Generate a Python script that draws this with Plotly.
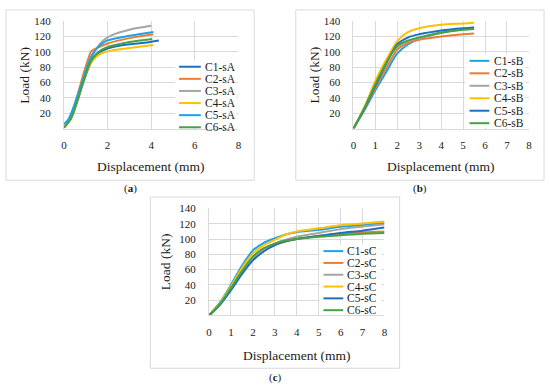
import plotly.graph_objects as go

W, H = 550, 385

# ---------------- data ----------------
names_a = ["C1-sA", "C2-sA", "C3-sA", "C4-sA", "C5-sA", "C6-sA"]
names_b = ["C1-sB", "C2-sB", "C3-sB", "C4-sB", "C5-sB", "C6-sB"]
names_c = ["C1-sC", "C2-sC", "C3-sC", "C4-sC", "C5-sC", "C6-sC"]

# panel (a)
a_c1_x = [0, 0.3, 0.6, 0.9, 1.2, 1.5, 1.8, 2.2, 3.0, 3.7, 4.35]
a_c1_y = [2, 12, 35, 62, 84, 97, 102, 106, 110, 112, 115]
a_c2_x = [0, 0.3, 0.6, 0.9, 1.1, 1.25, 1.5, 2.0, 3.0, 4.1]
a_c2_y = [2, 16, 42, 72, 90, 101, 105, 111, 118, 123]
a_c3_x = [0, 0.3, 0.6, 0.9, 1.2, 1.5, 1.8, 2.2, 3.0, 4.0]
a_c3_y = [2, 14, 38, 66, 88, 105, 115, 122, 129, 134]
a_c4_x = [0, 0.3, 0.6, 0.9, 1.2, 1.5, 1.8, 2.2, 3.0, 4.1]
a_c4_y = [2, 13, 36, 63, 84, 94, 99, 102, 105, 109]
a_c5_x = [0, 0.2, 0.5, 0.8, 1.1, 1.35, 1.7, 2.0, 3.0, 4.1]
a_c5_y = [6, 12, 33, 58, 84, 99, 110, 115, 121, 126]
a_c6_x = [0, 0.3, 0.6, 0.9, 1.2, 1.5, 1.8, 2.2, 3.0, 4.05]
a_c6_y = [1, 12, 35, 62, 86, 98, 104, 108, 113, 117]

# panel (b)
b_x = [0, 0.5, 1.0, 1.5, 2.0, 2.5, 3.0, 4.0, 5.0, 5.5]
b_c1_y = [0, 24, 50, 74, 98, 110, 117, 125, 130, 131.5]
b_c2_y = [0, 25, 53, 79, 103, 112, 116, 120, 123, 124]
b_c3_y = [0, 27, 60, 89, 106, 114, 118, 125, 129.5, 131]
b_c4_y = [0, 28, 62, 90, 114, 126, 131, 135.5, 137, 138]
b_c5_y = [0, 26, 56, 85, 110, 119, 123, 128, 131, 132]
b_c6_y = [0, 27, 58, 86, 108, 115, 119, 125, 129, 130]

# panel (c)
c_x = [0, 0.5, 1.0, 1.5, 2.0, 2.5, 3.0, 3.5, 4.0, 5.0, 6.0, 7.0, 8.0]
c_c1_y = [0, 17, 40, 65, 85, 95, 101, 106, 109, 112, 116, 118.5, 121]
c_c2_y = [0, 15, 34, 55, 73, 84, 92, 97, 100, 104, 107, 109, 110]
c_c3_y = [0, 15, 35, 57, 76, 87, 94, 99, 103, 108, 113, 116.5, 119]
c_c4_y = [0, 16, 38, 62, 81, 92, 99, 106, 110, 114, 118, 120.5, 123]
c_c5_y = [0, 14, 33, 54, 72, 84, 92, 97, 100, 104, 108, 111, 115]
c_c6_y = [0, 15, 36, 58, 77, 88, 94, 98, 100, 103, 105, 107, 108]

y_ticks = [20, 40, 60, 80, 100, 120, 140]
x_ticks_a = [0, 2, 4, 6, 8]
x_ticks_bc = [0, 1, 2, 3, 4, 5, 6, 7, 8]

x_title = "Displacement (mm)"
y_title = "Load (kN)"
panel_labels = ["(<b>a</b>)", "(<b>b</b>)", "(<b>c</b>)"]

# ---------------- style ----------------
DARK_BLUE = "#1F6FC0"
LIGHT_BLUE = "#1AA3E8"
ORANGE = "#ED7D31"
GRAY = "#A5A5A5"
YELLOW = "#FFC000"
GREEN = "#44A340"
colors_a = [DARK_BLUE, ORANGE, GRAY, YELLOW, LIGHT_BLUE, GREEN]
colors_bc = [LIGHT_BLUE, ORANGE, GRAY, YELLOW, DARK_BLUE, GREEN]

FONT = "Liberation Serif"
GRID = "#D9D9D9"
TXT = "#1a1a1a"


def px(x):
    return x / W


def py(y):
    return 1 - y / H


fig = go.Figure()

series_a = [(a_c1_x, a_c1_y), (a_c2_x, a_c2_y), (a_c3_x, a_c3_y),
            (a_c4_x, a_c4_y), (a_c5_x, a_c5_y), (a_c6_x, a_c6_y)]
series_b = [(b_x, y) for y in (b_c1_y, b_c2_y, b_c3_y, b_c4_y, b_c5_y, b_c6_y)]
series_c = [(c_x, y) for y in (c_c1_y, c_c2_y, c_c3_y, c_c4_y, c_c5_y, c_c6_y)]

panels = [
    dict(series=series_a, names=names_a, colors=colors_a, ax="",
         plot=(61.7, 238, 15.5, 124.5), frame=(3, 254, 4, 177),
         leg=(178, 200, 202, 61.7, 12.3), legbg=(174, 236, 55, 124),
         label=(128.5, 185.5), xt=x_ticks_a, ytx=22, xty=163),
    dict(series=series_b, names=names_b, colors=colors_bc, ax="2",
         plot=(354.3, 531.7, 15.5, 124.5), frame=(296, 547, 4, 177),
         leg=(471.7, 491.7, 494, 55.7, 12.67), legbg=(467, 528, 49, 124),
         label=(421.5, 185.5), xt=x_ticks_bc, ytx=315, xty=163),
    dict(series=series_c, names=names_c, colors=colors_bc, ax="3",
         plot=(208.3, 385.7, 205.7, 314.3), frame=(149, 401, 194, 368),
         leg=(324, 344, 346, 249, 12.0), legbg=(320, 383, 242, 314),
         label=(275, 377.5), xt=x_ticks_bc, ytx=165, xty=355),
]

shapes = []
annotations = []
for k, p in enumerate(panels):
    ax = p["ax"]
    for (xs, ys), name, col in zip(p["series"], p["names"], p["colors"]):
        fig.add_trace(go.Scatter(
            x=xs, y=ys, name=name, mode="lines",
            line=dict(color=col, width=2, shape="spline", smoothing=0.8),
            xaxis="x" + ax, yaxis="y" + ax, showlegend=False,
            hoverinfo="skip"))
    l, r, t, b = p["plot"]
    fig.layout["xaxis" + ax] = dict(
        domain=[px(l), px(r)], range=[0, 8], tickvals=p["xt"],
        anchor="y" + ax, showgrid=True, gridcolor=GRID, gridwidth=1,
        showline=True, linecolor=GRID, linewidth=1, zeroline=False,
        ticks="", ticklabelstandoff=6,
        tickfont=dict(family=FONT, size=11, color=TXT), fixedrange=True)
    fig.layout["yaxis" + ax] = dict(
        domain=[py(b), py(t)], range=[0, 140], tickvals=y_ticks,
        anchor="x" + ax, showgrid=True, gridcolor=GRID, gridwidth=1,
        showline=True, linecolor=GRID, linewidth=1, zeroline=False,
        ticks="", ticklabelstandoff=10,
        tickfont=dict(family=FONT, size=11, color=TXT), fixedrange=True)
    # frame
    fl, fr, ft, fb = p["frame"]
    shapes.append(dict(type="rect", xref="paper", yref="paper",
                       x0=px(fl), x1=px(fr), y0=py(fb), y1=py(ft),
                       line=dict(color=GRID, width=1), fillcolor="rgba(0,0,0,0)",
                       layer="below"))
    # legend background
    bl, br, bt, bb = p["legbg"]
    shapes.append(dict(type="rect", xref="paper", yref="paper",
                       x0=px(bl), x1=px(br), y0=py(bb), y1=py(bt),
                       line=dict(width=0), fillcolor="white", layer="above"))
    kx0, kx1, tx, y0, step = p["leg"]
    for i, (name, col) in enumerate(zip(p["names"], p["colors"])):
        yy = y0 + i * step
        shapes.append(dict(type="line", xref="paper", yref="paper",
                           x0=px(kx0), x1=px(kx1), y0=py(yy), y1=py(yy),
                           line=dict(color=col, width=2), layer="above"))
        annotations.append(dict(text=name, xref="paper", yref="paper",
                                x=px(tx), y=py(yy), xanchor="left",
                                yanchor="middle", showarrow=False,
                                font=dict(family=FONT, size=11.5, color=TXT)))
    # axis titles
    annotations.append(dict(text=y_title, xref="paper", yref="paper",
                            x=px(p["ytx"]), y=py((t + b) / 2), textangle=-90,
                            xanchor="center", yanchor="middle", showarrow=False,
                            font=dict(family=FONT, size=13.5, color=TXT)))
    annotations.append(dict(text=x_title, xref="paper", yref="paper",
                            x=px((l + r) / 2), y=py(p["xty"]),
                            xanchor="center", yanchor="middle", showarrow=False,
                            font=dict(family=FONT, size=13.5, color=TXT)))
    lx, ly = p["label"]
    annotations.append(dict(text=panel_labels[k], xref="paper",
                            yref="paper", x=px(lx), y=py(ly), xanchor="center",
                            yanchor="middle", showarrow=False,
                            font=dict(family=FONT, size=11, color=TXT)))

fig.update_layout(
    width=W, height=H, margin=dict(l=0, r=0, t=0, b=0),
    paper_bgcolor="white", plot_bgcolor="white",
    showlegend=False, shapes=shapes, annotations=annotations,
)

fig.write_html("out.html", config={"displayModeBar": False},
               post_script="document.body.style.margin='0px';"
                           "document.body.style.overflow='hidden';")
